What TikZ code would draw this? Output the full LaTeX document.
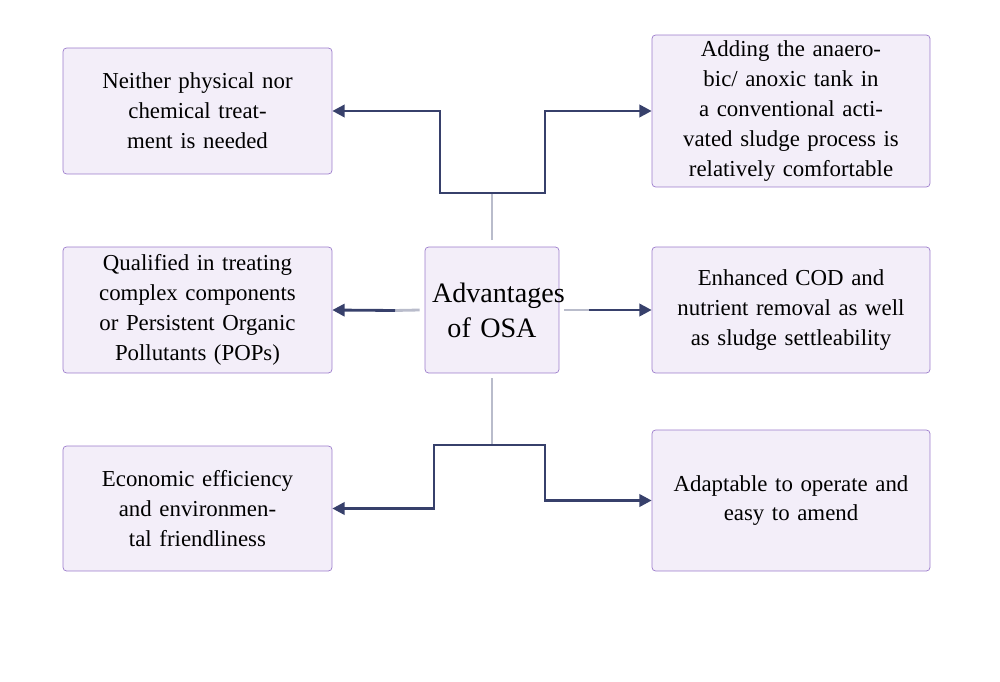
\documentclass[tikz,border=0pt]{standalone}
\usepackage{fontspec}
\setmainfont{Liberation Serif}
\usetikzlibrary{arrows.meta}

\definecolor{boxfill}{HTML}{F3EEF9}
\definecolor{boxline}{HTML}{9B7BCB}
\definecolor{linkcol}{HTML}{37406B}

\tikzset{
  advbox/.style={draw=boxline, fill=boxfill, rounded corners=2pt,
    align=center, text width=4.9cm, font=\fontsize{13}{17}\selectfont},
  link/.style={draw=linkcol, line width=1.6pt, -{Triangle[length=7pt,width=7pt]}},
  stem/.style={draw=linkcol!35, line width=1.6pt}
}

\begin{document}
\begin{tikzpicture}[x=0.02cm, y=-0.02cm]
  \useasboundingbox (0,0) rectangle (1000,682);

  % boxes
  \node[advbox, minimum width=5.38cm, minimum height=2.52cm] (tl) at (197.5,111)
    {Neither physical nor\\ chemical treatment is needed};
  \node[advbox, minimum width=5.56cm, minimum height=2.52cm] (tr) at (791,111)
    {Adding the anaerobic/ anoxic tank in a conventional activated sludge process is relatively comfortable};
  \node[advbox, minimum width=5.38cm, minimum height=2.52cm] (ml) at (197.5,310)
    {Qualified in treating complex components or Persistent Organic Pollutants (POPs)};
  \node[advbox, minimum width=5.56cm, minimum height=2.52cm] (mr) at (791,310)
    {Enhanced COD and nutrient removal as well as sludge settleability};
  \node[advbox, minimum width=5.38cm, minimum height=2.5cm] (bl) at (197.5,508.5)
    {Economic efficiency and environmental friendliness};
  \node[advbox, minimum width=5.56cm, minimum height=2.82cm] (br) at (791,500.5)
    {Adaptable to operate and\\ easy to amend};
  \node[advbox, text width=2.4cm, minimum width=2.68cm, minimum height=2.52cm,
    font=\fontsize{16}{20}\selectfont] (osa) at (492,310) {Advantages\\ of OSA};

  % connector corners
  \coordinate (top) at (492,193);
  \coordinate (bot) at (492,445);

  % top pair
  \draw[stem] (492,240) -- (top);
  \draw[link] (top) -- (440,193) -- (440,111) -- (tl.east);
  \draw[link] (top) -- (545,193) -- (545,111) -- (tr.west);

  % middle pair
  \draw[stem] (osa.west) ++(-5,0) -- ++(-25,0.5);
  \draw[link] (395,310.5) -- (ml.east);
  \draw[stem] (osa.east) ++(5,0) -- ++(25,0);
  \draw[link] (589,310) -- (mr.west);

  % bottom pair
  \draw[stem] (osa.south) ++(0,5) -- (bot);
  \draw[link] (bot) -- (434,445) -- (434,508.5) -- (bl.east);
  \draw[link] (bot) -- (545,445) -- (545,500.5) -- (br.west);
\end{tikzpicture}
\end{document}
